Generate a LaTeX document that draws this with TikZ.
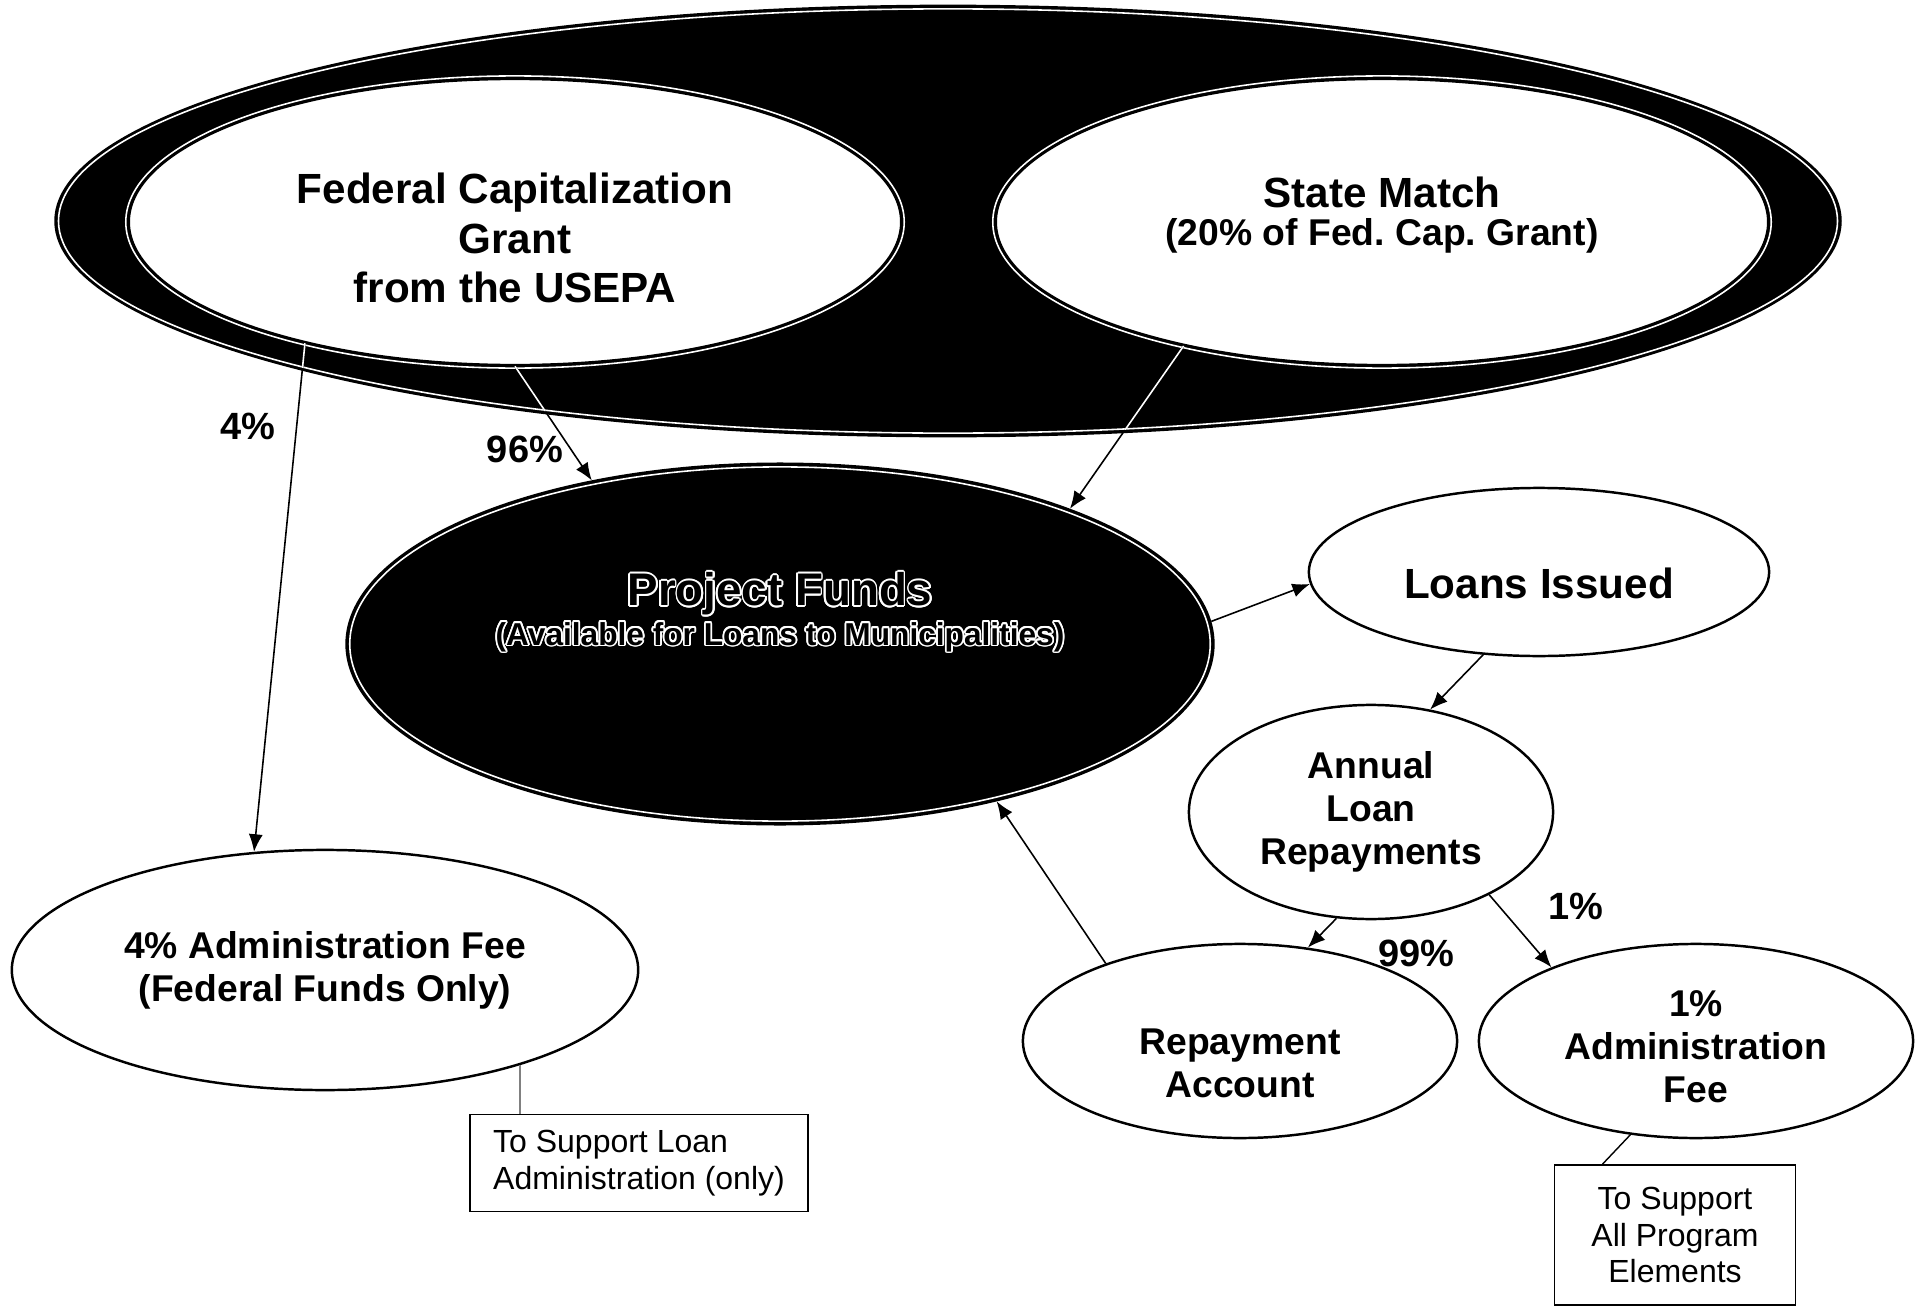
\documentclass[tikz,border=0pt]{standalone}
\usepackage{fontspec}
\setmainfont{Liberation Sans}
\usepackage[copies]{contour}
\contourlength{0.5pt}
\usetikzlibrary{shapes.geometric,arrows.meta}

\begin{document}
\begin{tikzpicture}[
		x=0.01cm, y=-0.01cm,
		every node/.style={ellipse, draw, inner sep=0pt, align=center, line width=0.7pt, font=\bfseries\fontsize{10.6}{12.2}\selectfont},
		bignode/.style={font=\bfseries\fontsize{12}{14}\selectfont},
		txt/.style={rectangle, draw=none},
		ring/.style={draw=white, line width=0.45pt},
		flow/.style={-{Latex[length=5pt,width=4pt]}, line width=0.45pt},
		pct/.style={rectangle, draw=none, font=\bfseries\fontsize{10.8}{12}\selectfont},
		note/.style={rectangle, draw, line width=0.5pt, font=\fontsize{9.1}{10.5}\selectfont}
		]
		\useasboundingbox (0,0) rectangle (1923,1306);
		\node[fill=black, minimum width=17.84cm, minimum height=4.30cm] (outer) at (948,221) {};
		\draw[ring] (outer.center) ellipse [x radius=8.89cm, y radius=2.12cm];
		\draw[ring] (515,222) ellipse [x radius=3.89cm, y radius=1.46cm];
		\draw[ring] (1382,222) ellipse [x radius=3.89cm, y radius=1.46cm];
		\node[fill=white, minimum width=7.72cm, minimum height=2.86cm] (fed) at (515,222) {};
		\node[bignode, txt] (fedtext) at ([yshift=-0.16cm]fed.center) {Federal Capitalization\\Grant\\from the USEPA};
		\node[fill=white, minimum width=7.72cm, minimum height=2.86cm] (state) at (1382,222) {};
		\node[bignode, txt] (statetext) at ([yshift=0.07cm]state.center) {State Match\\[-3pt]{\fontsize{10.6}{12}\selectfont(20\% of Fed.\ Cap.\ Grant)}};
		\node[fill=black, line width=0.8pt, minimum width=8.66cm, minimum height=3.60cm] (pf) at (780,644) {};
		\draw[ring] (pf.center) ellipse [x radius=4.30cm, y radius=1.77cm];
		\node[txt, text=black] (pftext) at (780,613) {{\fontsize{13}{15}\selectfont\contour{white}{Project Funds}}\\[-1pt]{\fontsize{9}{11}\selectfont\contour{white}{(Available for Loans to Municipalities)}}};
		\node[minimum width=4.60cm, minimum height=1.68cm] (loans) at (1539,572) {};
		\node[bignode, txt] (loanstext) at ([yshift=-0.11cm]loans.center) {Loans Issued};
		\node[minimum width=3.64cm, minimum height=2.14cm] (annual) at (1371,812) {Annual\\Loan\\Repayments};
		\node[minimum width=4.34cm, minimum height=1.94cm] (rep) at (1240,1041) {};
		\node[txt] (reptext) at ([yshift=-0.22cm]rep.center) {Repayment\\Account};
		\node[minimum width=4.34cm, minimum height=1.94cm] (fee1) at (1696,1041) {};
		\node[txt] (fee1text) at ([yshift=-0.06cm]fee1.center) {1\%\\Administration\\Fee};
		\node[minimum width=6.26cm, minimum height=2.40cm] (fee4) at (325,970) {4\% Administration Fee\\(Federal Funds Only)};
		\node[note, align=left, minimum width=3.38cm, minimum height=0.97cm] (note1) at (639,1163) {To Support Loan\\Administration (only)};
		\node[note, minimum width=2.41cm, minimum height=1.40cm] (note2) at (1675,1235) {To Support\\All Program\\Elements};
		\node[pct] (p4) at (248,426) {4\%};
		\node[pct] (p96) at (525,449) {96\%};
		\node[pct] (p99) at (1416,953) {99\%};
		\node[pct] (p1) at (1576,906) {1\%};
		\draw[flow] (fed.210) -- (fee4.121);
		\draw[flow] (fed.270) -- (pf.139);
		\draw[flow] (state.212) -- (pf.25);
		\draw[flow] (pf.3) -- (loans.183);
		\draw[flow] (loans.236) -- (annual.60);
		\draw[flow] (annual.252) -- (rep.54);
		\draw[flow] (annual.325) -- (fee1.153);
		\draw[flow] (rep.150) -- (pf.324);
		\draw[line width=0.4pt, gray] (fee4.334) -- (fee4.334 |- note1.north);
		\draw[line width=0.4pt] (fee1.235) -- ([xshift=0.49cm]note2.north west);
		\begin{scope}
			\clip (outer.center) ellipse [x radius=8.9cm, y radius=2.13cm];
			\draw[ring] (fed.210) -- (fee4.121);
			\draw[ring] (fed.270) -- (pf.139);
			\draw[ring] (state.212) -- (pf.25);
		\end{scope}
	\end{tikzpicture}
\end{document}
